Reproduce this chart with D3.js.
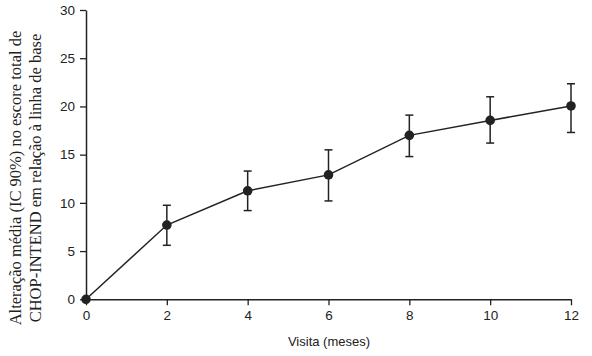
<!DOCTYPE html>
<html><head><meta charset="utf-8">
<script src="https://cdn.jsdelivr.net/npm/d3@7"></script>
<style>body{margin:0;background:#fff}svg{display:block}</style>
</head><body>
<svg id="c" width="592" height="356"></svg>
<script>
const months = [0, 2, 4, 6, 8, 10, 12];
const meanChange = [0, 7.7, 11.25, 12.9, 17.0, 18.55, 20.05];
const ciLow = [0, 5.6, 9.2, 10.2, 14.8, 16.2, 17.3];
const ciHigh = [0, 9.75, 13.3, 15.5, 19.1, 21.0, 22.35];
const xTicks = [0, 2, 4, 6, 8, 10, 12];
const yTicks = [0, 5, 10, 15, 20, 25, 30];
const yTitleLines = ["Alteração média (IC 90%) no escore total de", "CHOP-INTEND em relação à linha de base"];
const xTitle = "Visita (meses)";

const svg = d3.select("#c");
const x = d3.scaleLinear().domain([0, 12]).range([86, 571]);
const y = d3.scaleLinear().domain([0, 30]).range([299.3, 10]);
const ink = "#222";

const xAxis = svg.append("g").attr("transform", `translate(0,${y(0)})`)
  .call(d3.axisBottom(x).tickValues(xTicks).tickSize(6).tickSizeOuter(0).tickPadding(5));
const yAxis = svg.append("g").attr("transform", `translate(${x(0)},0)`)
  .call(d3.axisLeft(y).tickValues(yTicks).tickSize(6).tickSizeOuter(0).tickPadding(5));
[xAxis, yAxis].forEach(g => {
  g.select(".domain").attr("stroke", ink).attr("stroke-width", 1.5);
  g.selectAll(".tick line").attr("stroke", ink).attr("stroke-width", 1.3);
  g.selectAll(".tick text").attr("fill", ink).style("font-family", "Liberation Sans, Arial, sans-serif").style("font-size", "13.5px");
});

const data = months.map((m, i) => ({m, v: meanChange[i], lo: ciLow[i], hi: ciHigh[i]}));

// error bars
const eb = svg.append("g").attr("stroke", ink).attr("stroke-width", 1.5);
data.filter(d => d.hi > d.lo).forEach(d => {
  eb.append("line").attr("x1", x(d.m)).attr("x2", x(d.m)).attr("y1", y(d.lo)).attr("y2", y(d.hi));
  eb.append("line").attr("x1", x(d.m) - 4).attr("x2", x(d.m) + 4).attr("y1", y(d.lo)).attr("y2", y(d.lo));
  eb.append("line").attr("x1", x(d.m) - 4).attr("x2", x(d.m) + 4).attr("y1", y(d.hi)).attr("y2", y(d.hi));
});

svg.append("path").datum(data)
  .attr("fill", "none").attr("stroke", ink).attr("stroke-width", 1.5)
  .attr("d", d3.line().x(d => x(d.m)).y(d => y(d.v)));

svg.append("g").selectAll("circle").data(data).join("circle")
  .attr("cx", d => x(d.m)).attr("cy", d => y(d.v)).attr("r", 4.8).attr("fill", ink);

svg.append("text").attr("x", 329).attr("y", 346).attr("text-anchor", "middle")
  .style("font-family", "Liberation Sans, Arial, sans-serif").style("font-size", "13px").attr("fill", ink)
  .text(xTitle);

const yt = svg.append("text").attr("transform", "translate(0,178) rotate(-90)")
  .attr("text-anchor", "middle").style("font-family", "Liberation Serif, Times New Roman, serif")
  .style("font-size", "16.5px").attr("fill", ink);
yTitleLines.forEach((t, i) => yt.append("tspan").attr("x", 0).attr("y", 21 + i * 20).text(t));
</script>
</body></html>
